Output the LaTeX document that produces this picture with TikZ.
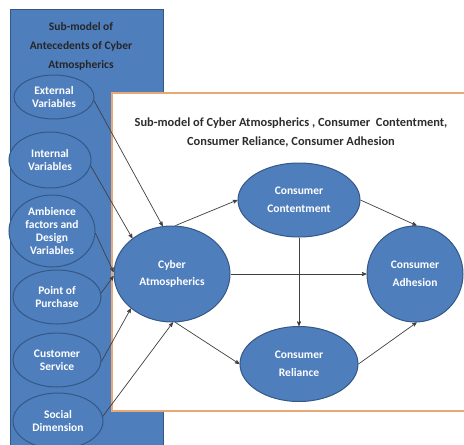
\documentclass[tikz,border=0pt]{standalone}
\usepackage{fontspec}
\setmainfont{Carlito}
\usetikzlibrary{arrows,shapes.geometric}
\definecolor{boxblue}{RGB}{79,126,189}
\definecolor{edgeblue}{RGB}{52,88,134}
\definecolor{frameorange}{RGB}{232,168,118}
\definecolor{linkgray}{RGB}{64,64,64}
\definecolor{titlegray}{RGB}{45,45,45}

\begin{document}
\begin{tikzpicture}[x=1pt, y=-1pt, >=stealth']
\tikzstyle{var} = [ellipse, fill=boxblue, draw=edgeblue, line width=1pt, inner sep=0pt,
  text=white, align=center, font=\bfseries\fontsize{11.5}{13.2}\selectfont]
\tikzstyle{construct} = [var, font=\bfseries\fontsize{11.5}{17.5}\selectfont]
\tikzstyle{heading} = [align=center, inner sep=0pt, text=titlegray]
\tikzstyle{link} = [->, draw=linkgray, line width=0.7pt]
\useasboundingbox (0,0) rectangle (464,445);
\clip (0,0) rectangle (464,445);
% panels
\filldraw[fill=boxblue, draw=edgeblue, line width=1pt] (10,9) rectangle (163,460);
\filldraw[fill=white, draw=frameorange, line width=1.6pt] (112,93) rectangle (480,411);
\node[heading, font=\bfseries\fontsize{11.5}{19}\selectfont, text=black!85] (antttl) at (81,46)
  {Sub-model of\\Antecedents of Cyber\\Atmospherics};
\node[heading, font=\bfseries\fontsize{12.4}{19}\selectfont] (cybttl) at (291,132)
  {Sub-model of Cyber Atmospherics , Consumer~~Contentment,\\Consumer Reliance, Consumer Adhesion};
% antecedents
\node[var, minimum width=80, minimum height=44] (ext) at (54,97) {External\\Variables};
\node[var, minimum width=82, minimum height=56] (int) at (50,160) {Internal\\Variables};
\node[var, minimum width=86, minimum height=72] (amb) at (52,231) {Ambience\\factors and\\Design\\Variables};
\node[var, minimum width=88, minimum height=54] (pop) at (57,297) {Point of\\Purchase};
\node[var, minimum width=88, minimum height=54] (cs) at (57,360) {Customer\\Service};
\node[var, minimum width=90, minimum height=56] (sd) at (58,421) {Social\\Dimension};
% main constructs
\node[construct, minimum width=116, minimum height=96] (cyber) at (172,274) {Cyber\\Atmospherics};
\node[construct, minimum width=122, minimum height=74] (cont) at (299,200) {Consumer\\Contentment};
\node[construct, minimum width=96, minimum height=96] (adh) at (415,274) {Consumer\\Adhesion};
\node[construct, minimum width=118, minimum height=75] (rel) at (299,364) {Consumer\\Reliance};
% antecedents -> cyber atmospherics
\draw[link] (ext.-5) -- (cyber.101);
\draw[link] (int.-8) -- (cyber.138);
\draw[link] (amb.-3) -- (cyber.178);
\draw[link] (pop.5) -- (cyber.182);
\draw[link] (cs.-2) -- (cyber.220);
\draw[link] (sd.6) -- (cyber.271);
% structural paths
\draw[link] (cyber.86) -- (cont.180);
\draw[link] (cont.0) -- (adh.88);
\draw[link] (cyber) -- (adh);
\draw[link] (cont) -- (rel);
\draw[link] (cyber.274) -- (rel.180);
\draw[link] (rel.0) -- (adh.272);
\end{tikzpicture}
\end{document}
